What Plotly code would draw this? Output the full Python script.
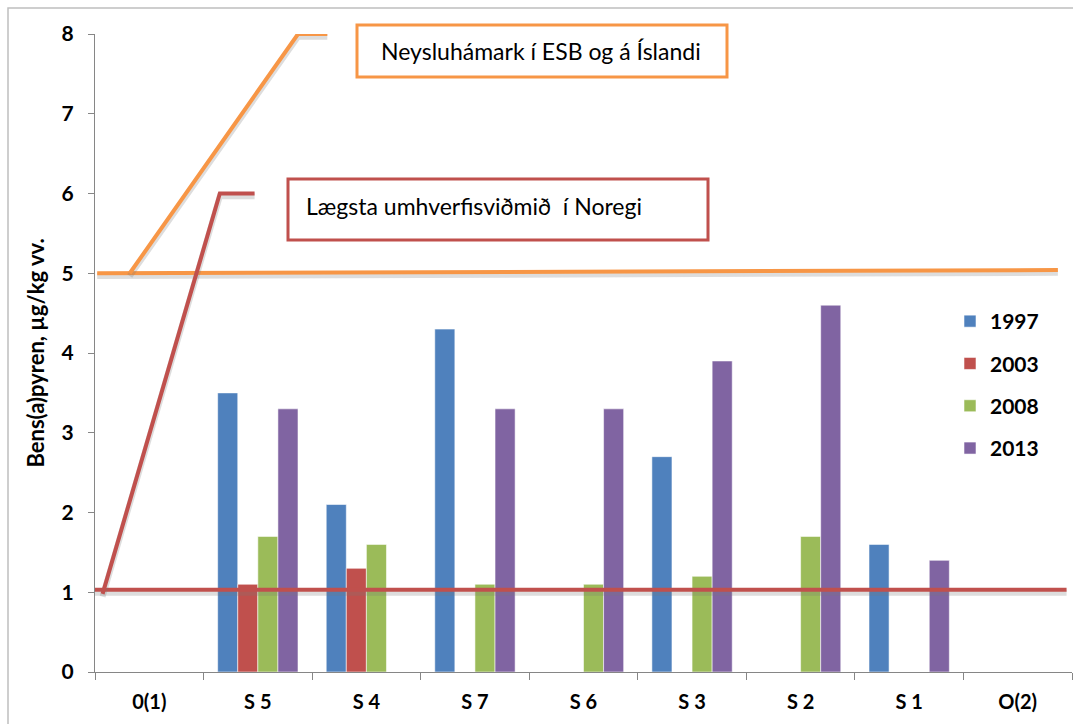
import plotly.graph_objects as go

# ---- data ----
stations = ["0(1)", "S 5", "S 4", "S 7", "S 6", "S 3", "S 2", "S 1", "O(2)"]
years = ["1997", "2003", "2008", "2013"]
v1997 = [None, 3.5, 2.1, 4.3, None, 2.7, None, 1.6, None]
v2003 = [None, 1.1, 1.3, None, None, None, None, None, None]
v2008 = [None, 1.7, 1.6, 1.1, 1.1, 1.2, 1.7, None, None]
v2013 = [None, 3.3, None, 3.3, 3.3, 3.9, 4.6, 1.4, None]
colors = ["#4F81BD", "#C0504D", "#9BBB59", "#8064A2"]

# reference lines (x in category index units)
eu_x, eu_y = [-0.48, 8.37], [5.0, 5.04]
no_x, no_y = [-0.5, 8.45], [1.03, 1.03]
eu_leader_x, eu_leader_y = [-0.18, 1.37, 1.64], [5.0, 8.0, 8.0]
no_leader_x, no_leader_y = [-0.43, 0.65, 0.97], [0.98, 6.0, 6.0]
eu_label = "Neysluhámark í ESB og á Íslandi"
no_label = "Lægsta umhverfisviðmið  í Noregi"
y_title = "Bens(a)pyren, µg/kg vv."

W, H = 1073, 724
L, R, T, B = 95, 1072, 34, 672   # plot area in px
FONT = "Lato"

def px(x):
    return (x - L) / (R - L)

def py(y):
    return (B - y) / (B - T)

fig = go.Figure()
for name, vals, col in zip(years, [v1997, v2003, v2008, v2013], colors):
    fig.add_trace(go.Bar(
        x=stations, y=vals, name=name, legendgroup=name,
        marker=dict(color=col, line=dict(color="rgba(255,255,255,0.55)", width=1)),
    ))

def ref_line(xs, ys, col):
    # soft shadow then the line
    fig.add_trace(go.Scatter(x=xs, y=[v - 0.035 for v in ys], xaxis="x2", mode="lines",
                             line=dict(color="rgba(120,120,120,0.25)", width=6),
                             showlegend=False, hoverinfo="skip"))
    fig.add_trace(go.Scatter(x=xs, y=ys, xaxis="x2", mode="lines",
                             line=dict(color=col, width=4),
                             showlegend=False, hoverinfo="skip"))

ref_line(eu_x, eu_y, "#F79646")
ref_line(no_x, no_y, "#C0504D")
ref_line(eu_leader_x, eu_leader_y, "#F79646")
ref_line(no_leader_x, no_leader_y, "#C0504D")

shapes = [
    # outer chart frame
    dict(type="rect", xref="paper", yref="paper", x0=px(8), x1=px(1085), y0=py(735), y1=py(8),
         line=dict(color="#BFBFBF", width=1.5), layer="below"),
    # label boxes
    dict(type="rect", xref="paper", yref="paper", x0=px(357), x1=px(727), y0=py(77), y1=py(25),
         line=dict(color="#F79646", width=3), fillcolor="white"),
    dict(type="rect", xref="paper", yref="paper", x0=px(288), x1=px(708), y0=py(240), y1=py(179),
         line=dict(color="#C0504D", width=3), fillcolor="white"),
]

annotations = [
    dict(xref="paper", yref="paper", x=px(541), y=py(51), text=eu_label, showarrow=False,
         xanchor="center", yanchor="middle", font=dict(family=FONT, size=23, color="#000")),
    dict(xref="paper", yref="paper", x=px(304), y=py(206), text=no_label, showarrow=False,
         xanchor="left", yanchor="middle", font=dict(family=FONT, size=23, color="#000")),
]

fig.update_layout(
    width=W, height=H,
    margin=dict(l=L, r=W - R, t=T, b=H - B, autoexpand=False),
    paper_bgcolor="white", plot_bgcolor="white",
    barmode="group", bargap=0.26, bargroupgap=0,
    shapes=shapes, annotations=annotations,
    font=dict(family=FONT, color="#000"),
    xaxis=dict(
        type="category", showgrid=False, showline=True, linecolor="#868686", linewidth=1,
        ticks="outside", tickson="boundaries", ticklen=7, tickcolor="#868686",
        tickfont=dict(family=FONT, size=20, color="#000", weight="bold"),
        ticklabelstandoff=12, range=[-0.5, 8.5], automargin=False,
    ),
    xaxis2=dict(overlaying="x", range=[-0.5, 8.5], visible=False),
    yaxis=dict(
        range=[0, 8], dtick=1, showgrid=False, showline=True, linecolor="#868686", linewidth=1,
        ticks="outside", ticklen=6, tickcolor="#868686", zeroline=False,
        tickfont=dict(family=FONT, size=21, color="#000", weight="bold"),
        ticklabelstandoff=10, automargin=False,
        title=dict(text=y_title, standoff=10,
                   font=dict(family=FONT, size=22, color="#000", weight="bold")),
    ),
    legend=dict(
        x=px(950), y=py(301), xanchor="left", yanchor="top",
        bgcolor="rgba(0,0,0,0)", tracegroupgap=12,
        font=dict(family=FONT, size=21, color="#000", weight="bold"),
    ),
    showlegend=True,
)

fig.write_html("out.html", config={"displayModeBar": False},
               post_script="document.body.style.margin='0';document.body.style.overflow='hidden';")
